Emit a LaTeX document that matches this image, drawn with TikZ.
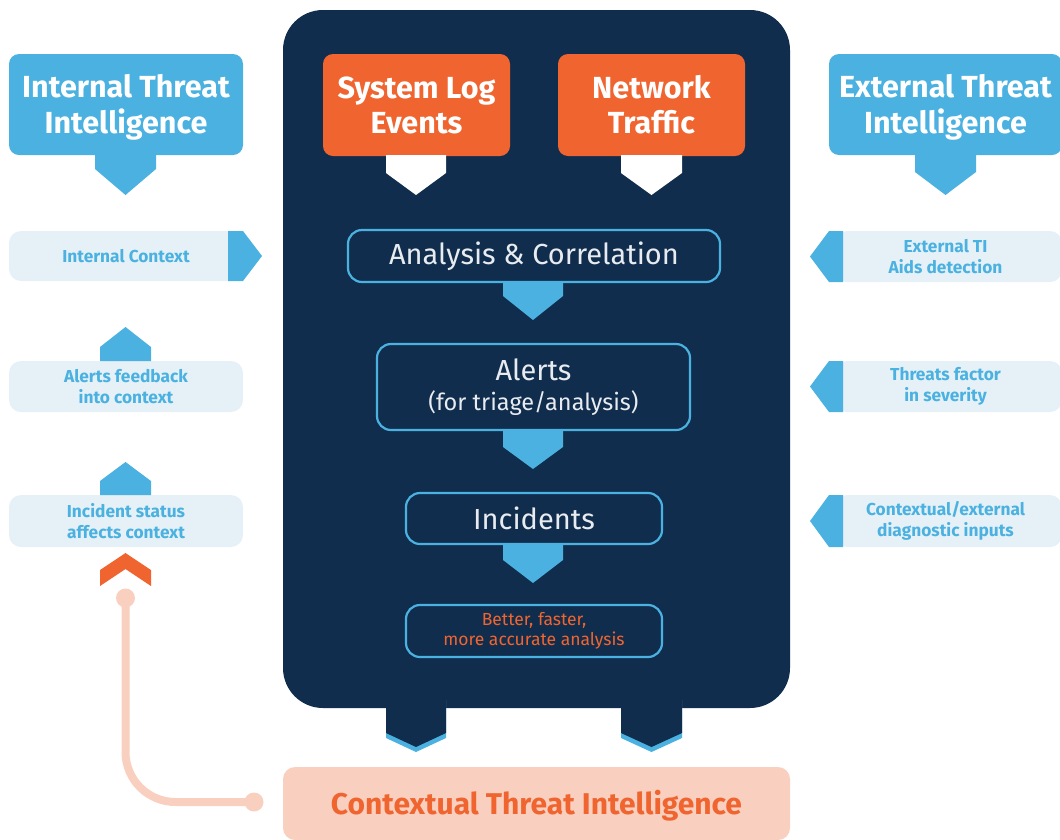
\documentclass[tikz,border=0pt]{standalone}
\usepackage{fontspec}
\setmainfont{Fira Sans}
\definecolor{tblue}{RGB}{74,177,224}
\definecolor{tdark}{RGB}{16,45,77}
\definecolor{torange}{RGB}{240,101,47}
\definecolor{tlight}{RGB}{229,241,247}
\definecolor{tpeach}{RGB}{249,208,192}
\definecolor{ttext}{RGB}{232,236,240}
\newcommand{\dchev}[6]{\fill[#6] (#1,#3) -- (#2,#3) -- (#2,#4) -- ({(#1+#2)/2},#5) -- (#1,#4) -- cycle;}
\tikzset{
  base/.style={outer sep=0pt, inner sep=0pt, align=center},
  tibox/.style={base, fill=tblue, rounded corners=10pt, text=white, font=\fontsize{30.5}{36}\selectfont\bfseries},
  srcbox/.style={base, fill=torange, rounded corners=10pt, text=white, font=\fontsize{30.5}{35}\selectfont\bfseries},
  lightbox/.style={base, fill=tlight, rounded corners=12pt, text=tblue, font=\fontsize{17.3}{21}\selectfont\bfseries},
  lighttext/.style={base, text=tblue, font=\fontsize{17.3}{21}\selectfont\bfseries},
  stagebox/.style={base, draw=tblue, line width=2.2pt, rounded corners=14pt, text=ttext},
  chevblue/.style={fill=tblue},
  chevwhite/.style={fill=white},
  chevdark/.style={fill=tdark},
  peachline/.style={draw=tpeach, line width=8pt, rounded corners=50pt},
}
\begin{document}
\begin{tikzpicture}[x=1pt,y=-1pt]
\useasboundingbox (0,0) rectangle (1060,839);
% central panel
\node[base, fill=tdark, rounded corners=40pt, minimum width=507pt, minimum height=698pt] (core) at (536.5,359) {};
% bottom chevrons of the panel
\dchev{386}{446}{700}{738}{752}{chevblue}
\dchev{621}{682}{700}{738}{752}{chevblue}
\dchev{386}{446}{700}{733}{747}{chevdark}
\dchev{621}{682}{700}{733}{747}{chevdark}
% threat intelligence boxes
\fill[tblue, rounded corners=10pt] (9,54) rectangle (243,155);
\node[base, text=white, font=\fontsize{30.5}{36}\selectfont\bfseries] (iti) at (126,107.5) {Internal Threat\\Intelligence};
\fill[tblue, rounded corners=10pt] (829,54) rectangle (1062,155);
\node[base, text=white, font=\fontsize{30.5}{36}\selectfont\bfseries] (eti) at (945.5,107.5) {External Threat\\Intelligence};
\dchev{95}{156}{154}{169}{195}{chevblue}
\dchev{915}{976}{154}{172}{195}{chevblue}
% source boxes
\node[srcbox, minimum width=187pt, minimum height=102pt] (sle) at (416.5,105) {System Log\\Events};
\node[srcbox, minimum width=187pt, minimum height=102pt] (net) at (651.5,105) {Network\\Traffic};
\dchev{386}{446}{155}{173}{195}{chevwhite}
\dchev{621}{682}{155}{173}{195}{chevwhite}
% stages
\node[stagebox, minimum width=372pt, minimum height=52pt, font=\fontsize{29}{32}\selectfont] (ana) at (534,256) {\raisebox{-1.5pt}{Analysis \& Correlation}};
\dchev{503}{563}{283}{296}{320}{chevblue}
\node[stagebox, minimum width=313pt, minimum height=86pt] (alr) at (533.5,387) {{\fontsize{29}{32}\selectfont Alerts}\\[9pt]{\fontsize{23.5}{26}\selectfont (for triage/analysis)}};
\dchev{503}{563}{431}{447}{469}{chevblue}
\node[stagebox, minimum width=256pt, minimum height=51pt, font=\fontsize{29}{32}\selectfont] (inc) at (534,518.5) {Incidents};
\dchev{503}{563}{545}{560}{583}{chevblue}
\node[stagebox, minimum width=256pt, minimum height=52pt, text=torange, font=\fontsize{17.5}{20}\selectfont] (bfa) at (534,631) {Better, faster,\\more accurate analysis};
% left context boxes
\node[lightbox, minimum width=234pt, minimum height=50pt] (ic) at (126,256) {Internal Context};
\fill[tblue] (228,231) -- (243,231) -- (262,256) -- (243,281) -- (228,281) -- cycle;
\node[lightbox, minimum width=234pt, minimum height=51pt] (afc) at (126,386.5) {Alerts feedback\\into context};
\dchev{100}{151}{361}{347}{327}{chevblue}
\node[lightbox, minimum width=234pt, minimum height=52pt] (isc) at (126,521) {Incident status\\affects context};
\dchev{100}{151}{495}{481}{462}{chevblue}
\fill[torange] (100,570) -- (125.5,553) -- (151,570) -- (151,586) -- (125.5,569) -- (100,586) -- cycle;
% right context boxes
\fill[tlight, rounded corners=12pt] (835,231) rectangle (1062,282);
\node[lighttext] (eta) at (945.5,256.5) {External TI\\Aids detection};
\fill[tblue] (843,231) -- (829,231) -- (810,256.5) -- (829,282) -- (843,282) -- cycle;
\fill[tlight, rounded corners=12pt] (835,361) rectangle (1062,412);
\node[lighttext] (tfs) at (945.5,386.5) {Threats factor\\in severity};
\fill[tblue] (843,361) -- (829,361) -- (810,386.5) -- (829,412) -- (843,412) -- cycle;
\fill[tlight, rounded corners=12pt] (835,495) rectangle (1062,547);
\node[lighttext] (ced) at (945.5,521) {Contextual/external\\diagnostic inputs};
\fill[tblue] (843,495) -- (829,495) -- (810,521) -- (829,547) -- (843,547) -- cycle;
% contextual threat intelligence
\fill[tpeach, rounded corners=12pt] (283,767) rectangle (790,840);
\node[base, text=torange, font=\fontsize{30}{32}\selectfont\bfseries] (cti) at (536.5,805.5) {Contextual Threat Intelligence};
% feedback connector
\coordinate (pa) at (125.5,598);
\coordinate (pb) at (254,802);
\draw[peachline] (pa) |- (pb);
\fill[tpeach] (pa) circle (9.5pt);
\fill[tpeach] (pb) circle (9.5pt);
\end{tikzpicture}
\end{document}
